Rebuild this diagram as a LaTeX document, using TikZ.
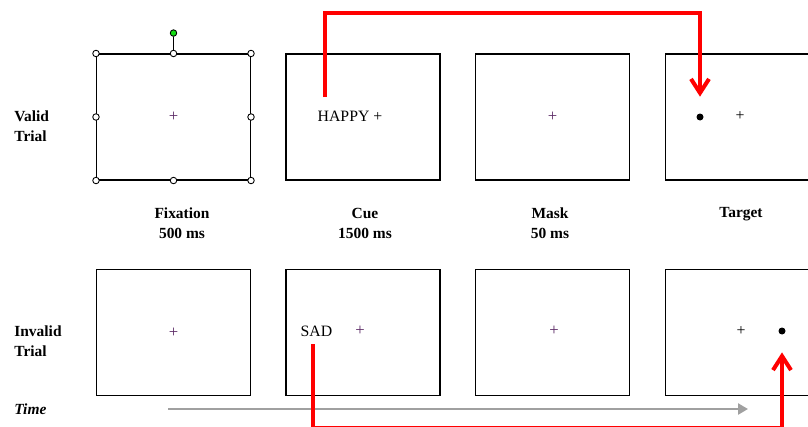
\documentclass[tikz,border=0pt]{standalone}
\usepackage{fontspec}
\setmainfont{Liberation Serif}
\usepackage{xcolor}
\usetikzlibrary{arrows.meta,positioning}
\definecolor{crossc}{RGB}{90,40,100}
\definecolor{timegray}{RGB}{160,160,160}
\definecolor{rotgreen}{RGB}{20,220,20}

\begin{document}
\begin{tikzpicture}[
        x=0.02cm, y=-0.02cm,
        screen/.style={rectangle, draw, line width=0.6pt, minimum width=3.08cm, minimum height=2.52cm, inner sep=0pt},
        rowlabel/.style={font=\fontsize{8.8}{11.3}\selectfont\bfseries, align=left, anchor=west, inner sep=0pt},
        steplabel/.style={font=\fontsize{8.8}{11.3}\selectfont\bfseries, align=center, inner sep=0pt},
        stim/.style={font=\fontsize{9}{11}\selectfont, inner sep=0pt},
        fixcross/.style={font=\fontsize{9.5}{11}\selectfont, text=crossc, inner sep=0pt},
        target/.style={circle, fill=black, minimum size=0.14cm, inner sep=0pt},
        handle/.style={circle, draw, fill=white, line width=0.5pt, minimum size=0.13cm, inner sep=0pt},
        cueline/.style={red, line width=2.3pt, -{Straight Barb[length=0.28cm,width=0.36cm]}},
        timearrow/.style={timegray, line width=1.7pt, -{Triangle[length=0.2cm,width=0.22cm]}}
    ]
        \useasboundingbox (0,0) rectangle (808,426);

        % Valid trial
        \node[rowlabel] (valid) at (14,126) {Valid\\Trial};
        \node[screen] (fixv) at (173.5,117) {};
        \node[screen] (cuev) at (363,117) {};
        \node[screen] (maskv) at (552.5,117) {};
        \node[screen] (targv) at (742.5,117) {};

        \node[fixcross] (fixvx) at (fixv) {+};
        \node[stim] (happy) at (350,116) {HAPPY +};
        \node[fixcross] (maskvx) at (maskv) {+};
        \node[target] (vdot) at (700,117) {};
        \node[stim] (targvx) at (740,116) {+};

        % selection handles
        \node[handle, fill=rotgreen, above=0.335cm of fixv.north] (rot) {};
        \draw[line width=0.6pt] (fixv.north) -- (rot);
        \foreach \a in {north west,north,north east,east,south east,south,south west,west}
            \node[handle] at (fixv.\a) {};

        % Step labels
        \node[steplabel] (fixlab) at (182,223.5) {Fixation\\500 ms};
        \node[steplabel] (cuelab) at (365,223.5) {Cue\\1500 ms};
        \node[steplabel] (masklab) at (550,223.5) {Mask\\50 ms};
        \node[steplabel] (targlab) at (741,214) {Target};

        % Invalid trial
        \node[rowlabel] (invalid) at (14,341) {Invalid\\Trial};
        \node[screen] (fixi) at (173.5,332.5) {};
        \node[screen] (cuei) at (363,332.5) {};
        \node[screen] (maski) at (552.5,332.5) {};
        \node[screen] (targi) at (742.5,332.5) {};

        \node[fixcross] (fixix) at (fixi) {+};
        \node[stim] (sad) at (316.5,331) {SAD};
        \node[fixcross] (cueix) at (360,331) {+};
        \node[fixcross] (maskix) at (554,331) {+};
        \node[stim] (targix) at (741,331) {+};
        \node[target] (idot) at (782,331) {};

        % Time
        \node[rowlabel, font=\fontsize{8.8}{11.3}\selectfont\bfseries\itshape] (time) at (14,409) {Time};
        \coordinate (tstart) at (168,409);
        \coordinate (tend) at (748,409);
        \draw[timearrow] (tstart) -- (tend);

        % Cue arrows
        \coordinate (vstart) at (325,97);
        \coordinate (istart) at (313,344);
        \draw[cueline, shorten >=0.33cm] (vstart) -- ++(0,-84) -| (vdot);
        \draw[cueline, shorten >=0.35cm] (istart) -- ++(0,83.8) -| (idot);

    \end{tikzpicture}
\end{document}
